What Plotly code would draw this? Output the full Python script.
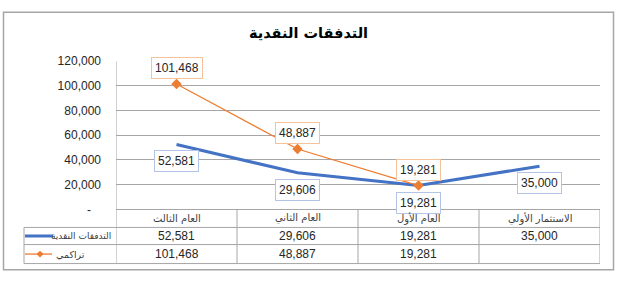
import plotly.graph_objects as go

W, H = 620, 281

title = "التدفقات النقدية"
categories = ["الاستثمار الأولي", "العام الأول", "العام الثاني", "العام الثالث"]
series_names = ["التدفقات النقدية", "تراكمي"]
cash_flow = [35000, 19281, 29606, 52581]
cumulative = [None, 19281, 48887, 101468]
y_ticks = [0, 20000, 40000, 60000, 80000, 100000, 120000]
y_ticklabels = ["-\u00a0\u00a0\u00a0", "20,000", "40,000", "60,000", "80,000", "100,000", "120,000"]

BLUE = "#4472C4"
ORANGE = "#ED7D31"
GRID = "#a6a6a6"
NUM_FONT = "Liberation Sans, sans-serif"
AR_FONT = "DejaVu Sans, sans-serif"


def px(x):
    return x / W


def py(y):
    return 1 - y / H


xs = list(range(len(categories)))

fig = go.Figure()
fig.add_trace(go.Scatter(
    x=xs, y=cash_flow, mode="lines", name=series_names[0],
    line=dict(color=BLUE, width=3), showlegend=False))
fig.add_trace(go.Scatter(
    x=xs, y=cumulative, mode="lines+markers", name=series_names[1],
    line=dict(color=ORANGE, width=1.3),
    marker=dict(symbol="diamond", size=8, color=ORANGE), showlegend=False))

annotations = []
# data labels
for i, v in zip(xs, cash_flow):
    annotations.append(dict(
        x=i, y=v, xref="x", yref="y", text=f"{v:,}", showarrow=False,
        yshift=-17, font=dict(family=NUM_FONT, size=12, color="#262626"),
        bgcolor="white", bordercolor="#b4c4e6", borderwidth=1, borderpad=3))
for i, v in zip(xs, cumulative):
    if v is None:
        continue
    annotations.append(dict(
        x=i, y=v, xref="x", yref="y", text=f"{v:,}", showarrow=False,
        yshift=16, font=dict(family=NUM_FONT, size=12, color="#262626"),
        bgcolor="white", bordercolor="#f6c29a", borderwidth=1, borderpad=3))

# title
annotations.append(dict(
    x=px(308), y=py(27), xref="paper", yref="paper", text=f"<b>{title}</b>",
    showarrow=False, font=dict(family=AR_FONT, size=14.5, color="black"),
    xanchor="center", yanchor="middle"))

# table header (categories) and values
row_h_center = py(222.5)
row1_center = py(241)
row2_center = py(260)
for i, c in enumerate(categories):
    annotations.append(dict(
        x=i, y=row_h_center, xref="x", yref="paper", text=c, showarrow=False,
        font=dict(family=AR_FONT, size=10, color="#404040"), yanchor="middle"))
    annotations.append(dict(
        x=i, y=row1_center, xref="x", yref="paper", text=f"{cash_flow[i]:,}",
        showarrow=False, font=dict(family=NUM_FONT, size=12, color="#262626"),
        yanchor="middle"))
    if cumulative[i] is not None:
        annotations.append(dict(
            x=i, y=row2_center, xref="x", yref="paper", text=f"{cumulative[i]:,}",
            showarrow=False, font=dict(family=NUM_FONT, size=12, color="#262626"),
            yanchor="middle"))

# legend keys inside table
annotations.append(dict(
    x=px(113), y=row1_center, xref="paper", yref="paper", text=series_names[0],
    showarrow=False, xanchor="right", yanchor="middle",
    font=dict(family=AR_FONT, size=9, color="#404040")))
annotations.append(dict(
    x=px(54), y=row2_center, xref="paper", yref="paper", text=series_names[1],
    showarrow=False, xanchor="left", yanchor="middle",
    font=dict(family=AR_FONT, size=9.5, color="#404040")))

shapes = []
line_style = dict(color=GRID, width=1)
# outer border
shapes.append(dict(type="rect", xref="paper", yref="paper",
                   x0=px(3.5), x1=px(613.5), y0=py(276.5), y1=py(5.5),
                   line=dict(color="#a6a6a6", width=1.5)))
# table vertical lines (at category boundaries)
for b in [i - 0.5 for i in range(len(categories) + 1)]:
    top = 57 if b == len(categories) - 0.5 else 213
    shapes.append(dict(type="line", xref="x", yref="paper", x0=b, x1=b,
                       y0=py(top), y1=py(270), line=line_style))
shapes.append(dict(type="line", xref="paper", yref="paper", x0=px(24), x1=px(24),
                   y0=py(232), y1=py(270), line=line_style))
for yy in [232, 250, 270]:
    shapes.append(dict(type="line", xref="paper", yref="paper", x0=px(24), x1=px(600),
                       y0=py(yy), y1=py(yy), line=line_style))
# legend key lines
shapes.append(dict(type="line", xref="paper", yref="paper", x0=px(25), x1=px(53),
                   y0=row1_center, y1=row1_center, line=dict(color=BLUE, width=3)))
shapes.append(dict(type="line", xref="paper", yref="paper", x0=px(25), x1=px(52),
                   y0=row2_center, y1=row2_center, line=dict(color=ORANGE, width=1.3)))
cx, cy, d = 40, 260, 3.6
shapes.append(dict(type="path", xref="paper", yref="paper",
                   path=f"M {px(cx)},{py(cy - d)} L {px(cx + d)},{py(cy)} L {px(cx)},{py(cy + d)} L {px(cx - d)},{py(cy)} Z",
                   fillcolor=ORANGE, line=dict(color=ORANGE, width=0)))

fig.update_layout(
    width=W, height=H,
    margin=dict(l=0, r=0, t=0, b=0),
    paper_bgcolor="white", plot_bgcolor="white",
    showlegend=False,
    xaxis=dict(domain=[px(116), px(600)], range=[len(categories) - 0.5, -0.5],
               showgrid=False, zeroline=False, showticklabels=False,
               showline=False, fixedrange=True),
    yaxis=dict(domain=[py(213), py(57)], range=[0, 120000],
               tickvals=y_ticks, ticktext=y_ticklabels,
               showgrid=True, gridcolor=GRID, gridwidth=1,
               zeroline=True, zerolinecolor=GRID, zerolinewidth=1,
               showline=False, ticks="", ticklabelstandoff=14,
               tickfont=dict(family=NUM_FONT, size=12, color="#262626"),
               fixedrange=True),
    annotations=annotations,
    shapes=shapes,
)

fig.write_html("out.html")
